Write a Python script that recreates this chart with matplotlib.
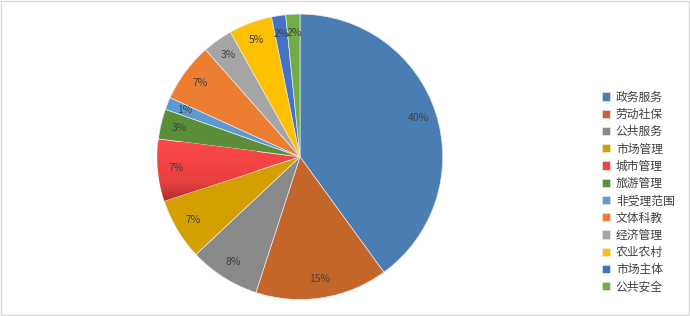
import matplotlib.pyplot as plt
import numpy as np
from matplotlib.patches import Rectangle
from matplotlib.colors import LinearSegmentedColormap

plt.rcParams['font.family'] = ['Noto Sans CJK SC', 'DejaVu Sans']

categories = ['政务服务', '劳动社保', '公共服务', '市场管理', '城市管理', '旅游管理',
              '非受理范围', '文体科教', '经济管理', '农业农村', '市场主体', '公共安全']
shares = [40, 15, 8, 7, 7, 3.4, 1.4, 6.7, 3.4, 4.9, 1.6, 1.6]
colors = ['#4A7EB2', '#C4652A', '#898989', '#D4A000', '#F24444', '#5A8E38',
          '#5B9BD5', '#ED7D31', '#A5A5A5', '#FFC000', '#4472C4', '#70AD47']

fig = plt.figure(figsize=(6.9, 3.16), dpi=100)
fig.patches.append(Rectangle((0.001, 0.002), 0.997, 0.995, transform=fig.transFigure,
                             fill=False, edgecolor='#D9D9D9', linewidth=1))

ax = fig.add_axes([157.3 / 690, 16.5 / 316, 285.4 / 690, 285.4 / 316])
wedges, texts, autotexts = ax.pie(shares, colors=colors, startangle=90, counterclock=False,
                                  autopct='%.0f%%', pctdistance=0.87,
                                  wedgeprops=dict(edgecolor='#E8E8E8', linewidth=0.5),
                                  textprops=dict(fontsize=7.5, color='#404040'))
ax.set_xlim(-1, 1)
ax.set_ylim(-1, 1)
ax.set_aspect('equal')

# gradient on the 城市管理 slice
red = wedges[4]
grad = np.linspace(0, 1, 100).reshape(-1, 1)
cmap = LinearSegmentedColormap.from_list('r', ['#FF4848', '#E84040', '#7A1A1A'])
im = ax.imshow(grad, cmap=cmap, extent=(-1, -0.3, -0.45, 0.1), origin='upper',
               aspect='auto', zorder=red.get_zorder())
im.set_clip_path(red)
for t in autotexts:
    t.set_zorder(5)

leg = fig.legend(wedges, categories, loc='upper left', bbox_to_anchor=(597 / 690, 1 - 86 / 316),
                 frameon=False, fontsize=8.5, handlelength=0.7, handleheight=0.7,
                 handletextpad=0.5, labelspacing=0.36, borderaxespad=0)
for t in leg.get_texts():
    t.set_color('#404040')

fig.savefig('out.png', dpi=100)
